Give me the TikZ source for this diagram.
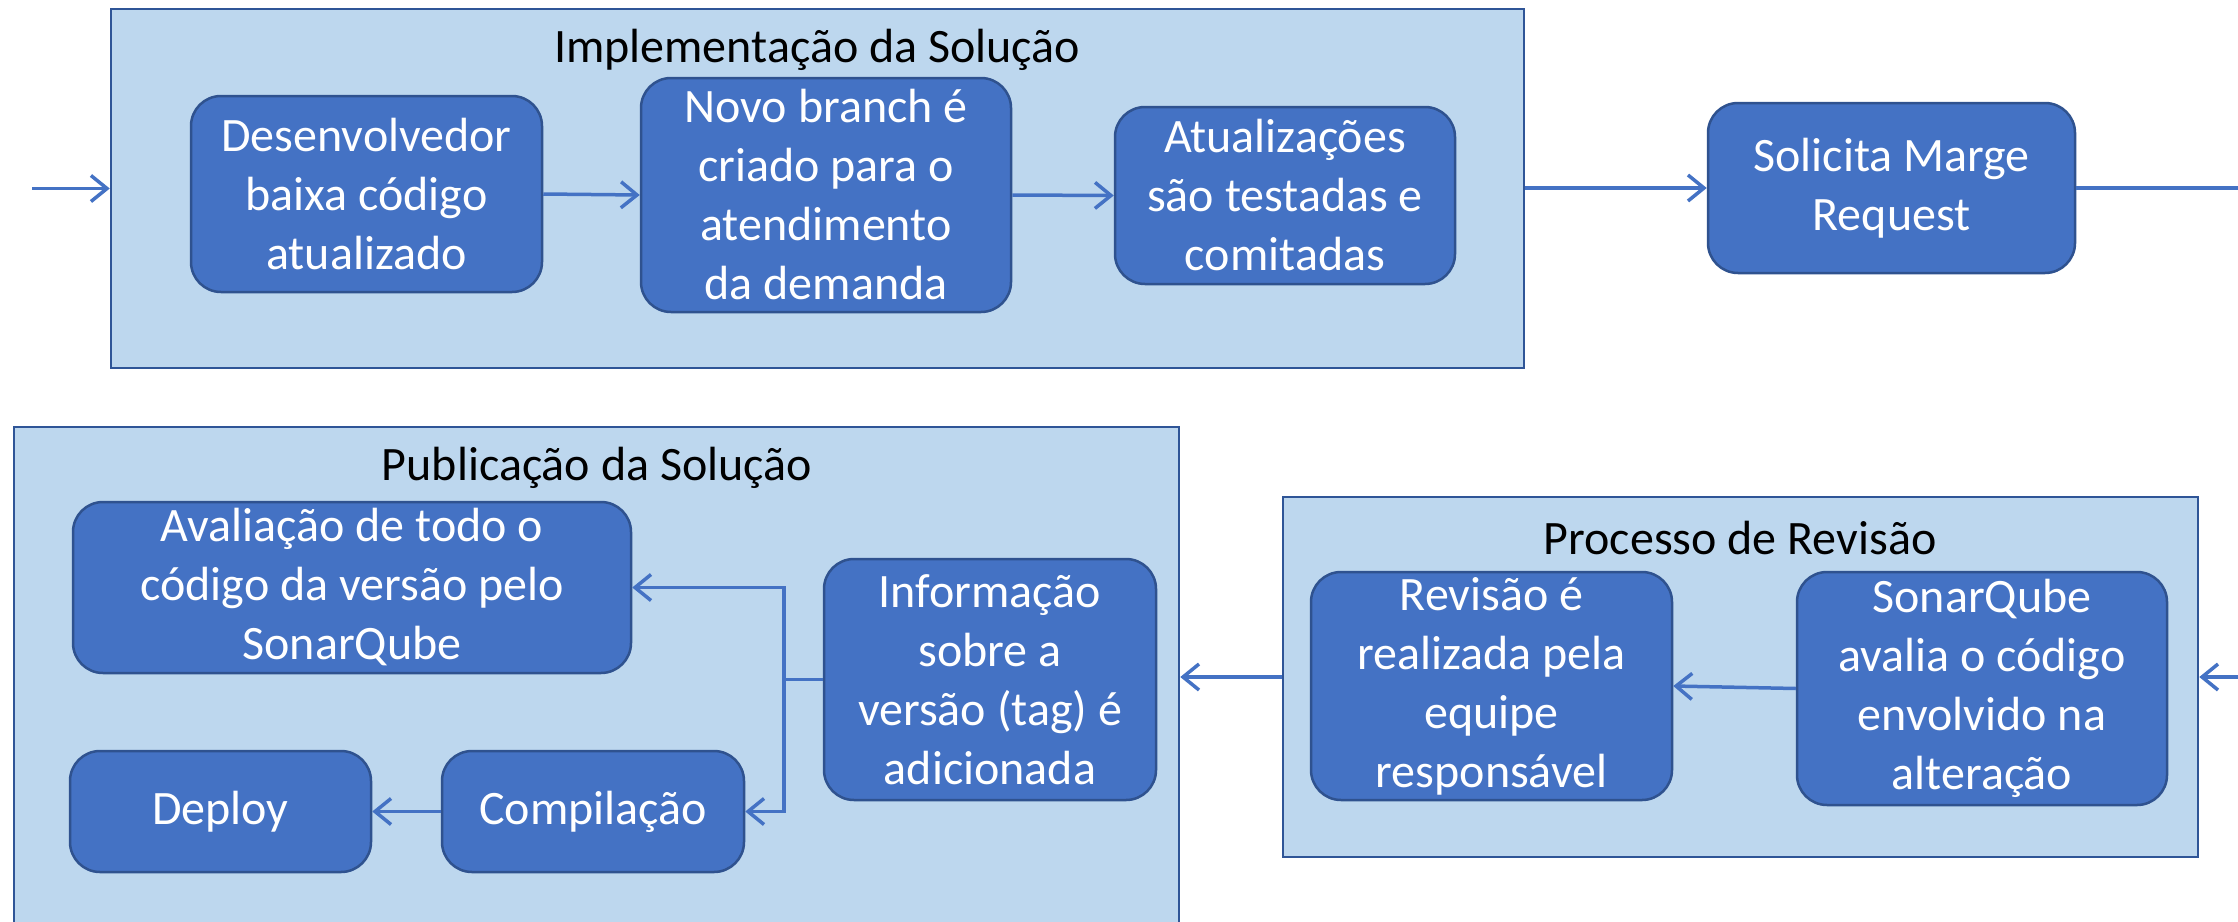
\documentclass[tikz,border=0pt]{standalone}
\usepackage{fontspec}
\setmainfont{Carlito}
\usetikzlibrary{arrows.meta}
\definecolor{contfill}{HTML}{BDD7EE}
\definecolor{contdraw}{HTML}{2F5597}
\definecolor{boxfill}{HTML}{4472C4}
\definecolor{boxdraw}{HTML}{2F528F}
\definecolor{arrcol}{HTML}{4472C4}
\tikzset{
  container/.style={draw=contdraw, fill=contfill, line width=2.5pt, rectangle, inner sep=0pt},
  ctitle/.style={text=black, font=\fontsize{48}{59}\selectfont, inner sep=0pt},
  stepbox/.style={draw=boxdraw, fill=boxfill, line width=2.5pt, rounded corners=30pt,
    text=white, font=\fontsize{48}{59}\selectfont, align=center, inner sep=0pt},
  arr/.style={draw=arrcol, line width=3.5pt, -{Straight Barb[length=16pt,width=26pt,line width=3.5pt]}},
  ln/.style={draw=arrcol, line width=3.5pt}
}
\begin{document}
\begin{tikzpicture}[x=1pt,y=-1pt]
\path[use as bounding box, fill=white] (0,0) rectangle (2238,921);
% containers
\node[container, minimum width=1413pt, minimum height=359pt] (impl) at (817.5,188.5) {};
\node[container, minimum width=915pt, minimum height=360pt] (proc) at (1740.5,677) {};
\node[container, minimum width=1165pt, minimum height=503pt] (pub) at (596.5,678.5) {};
% titles
\node[ctitle] (implt) at (817,50) {Implementação da Solução};
\node[ctitle] (pubt) at (597,468) {Publicação da Solução};
\node[ctitle] (proct) at (1740,538) {Processo de Revisão};
% boxes
\node[stepbox, minimum width=351pt, minimum height=196pt] (dev) at (366.5,194) {Desenvolvedor\\baixa código\\atualizado};
\node[stepbox, minimum width=370pt, minimum height=234pt] (novo) at (826,195) {Novo branch é\\criado para o\\atendimento\\da demanda};
\node[stepbox, minimum width=340pt, minimum height=177pt] (atu) at (1285,195.5) {Atualizações\\são testadas e\\comitadas};
\node[stepbox, minimum width=367pt, minimum height=170pt] (sol) at (1891.5,188) {Solicita Marge\\Request};
\node[stepbox, minimum width=361pt, minimum height=228pt] (rev) at (1491.5,686) {Revisão é\\realizada pela\\equipe\\responsável};
\node[stepbox, minimum width=370pt, minimum height=233pt] (sonar) at (1982,688.5) {SonarQube\\avalia o código\\envolvido na\\alteração};
\node[stepbox, minimum width=558pt, minimum height=171pt] (aval) at (352,587.5) {Avaliação de todo o\\código da versão pelo\\SonarQube};
\node[stepbox, minimum width=332pt, minimum height=241pt] (info) at (990,679.5) {Informação\\sobre a\\versão (tag) é\\adicionada};
\node[stepbox, minimum width=301pt, minimum height=121pt] (deploy) at (220.5,811.5) {Deploy};
\node[stepbox, minimum width=302pt, minimum height=121pt] (comp) at (593,811.5) {Compilação};
% free ends and junction
\coordinate (inL) at (32,188.5);
\coordinate (outR) at (2245,188);
\coordinate (inR) at (2245,677);
\coordinate (j) at (784,679.5);
% connectors
\draw[arr] (inL) -- (impl.west);
\draw[arr] (dev.east) -- (novo.west);
\draw[arr] (novo.east) -- (atu.west);
\draw[arr] (impl.east |- sol.west) -- (sol.west);
\draw[ln] (sol.east) -- (outR);
\draw[arr] (inR) -- (proc.east);
\draw[arr] (sonar.west) -- (rev.east);
\draw[arr] (proc.west) -- (proc.west -| pub.east);
\draw[ln] (info.west) -- (j);
\draw[arr] (j) |- (aval.east);
\draw[arr] (j) |- (comp.east);
\draw[arr] (comp.west) -- (deploy.east);
\end{tikzpicture}
\end{document}
